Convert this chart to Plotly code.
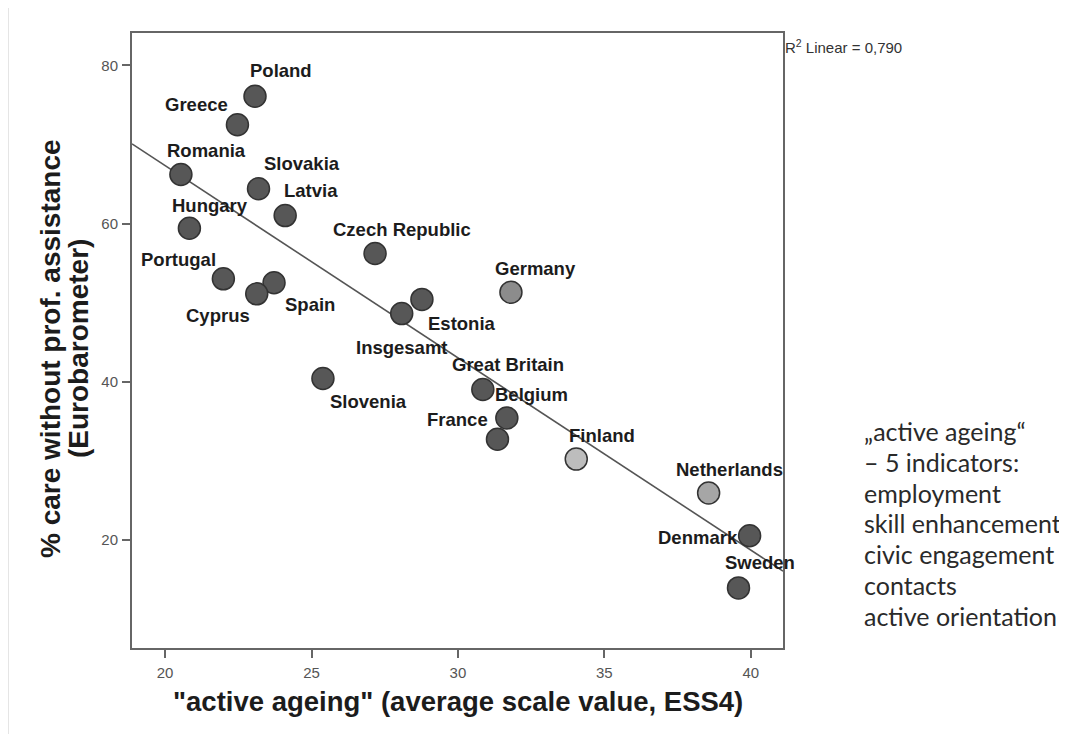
import numpy as np
import plotly.graph_objects as go

# ---------------- data ----------------
countries = ["Poland", "Greece", "Romania", "Slovakia", "Latvia", "Hungary",
             "Czech Republic", "Portugal", "Spain", "Cyprus", "Estonia",
             "Insgesamt", "Germany", "Slovenia", "Great Britain", "Belgium",
             "France", "Finland", "Netherlands", "Denmark", "Sweden"]
active_ageing = [23.07, 22.47, 20.54, 23.19, 24.10, 20.83,
                 27.17, 21.99, 23.72, 23.13, 28.77,
                 28.08, 31.81, 25.39, 30.85, 31.67,
                 31.35, 34.04, 38.56, 39.96, 39.58]
care_no_assist = [76.1, 72.5, 66.2, 64.4, 61.0, 59.4,
                  56.2, 53.0, 52.5, 51.1, 50.4,
                  48.6, 51.3, 40.4, 39.0, 35.4,
                  32.7, 30.2, 25.9, 20.5, 13.9]
# group: 0 = dark, 1 = Germany, 2 = Finland, 3 = Netherlands
group = [0, 0, 0, 0, 0, 0, 0, 0, 0, 0, 0, 0, 1, 0, 0, 0, 0, 2, 3, 0, 0]

x_ticks = [20, 25, 30, 35, 40]
y_ticks = [20, 40, 60, 80]
x_title = '"active ageing" (average scale value, ESS4)'
y_title_lines = ["% care without prof. assistance", "(Eurobarometer)"]
r2_text = "R<sup>2</sup> Linear = 0,790"
side_lines = ["„active ageing“", "– 5 indicators:", "employment",
              "skill enhancement", "civic engagement", "contacts",
              "active orientation"]

# ---------------- layout / style ----------------
PAGE_OFF = 8                      # browser body margin
W, H = 1067 - PAGE_OFF, 742 - 2 * PAGE_OFF
PL, PR, PT, PB = 132, 783, 33, 648  # plot area in page pixels
ML, MT = PL - PAGE_OFF, PT - PAGE_OFF
MR, MB = W - (PR - PAGE_OFF), H - (PB - PAGE_OFF)
PW, PH = PR - PL, PB - PT


def px(xp):
    return (xp - PL) / PW


def py(yp):
    return (PB - yp) / PH


X_RANGE = [18.87, 41.1]
Y_RANGE = [6.3, 84.1]
BOLD = "Liberation Sans, Arial"
fill_cols = {0: "#575757", 1: "#8c8c8c", 2: "#bdbdbd", 3: "#a6a6a6"}
label_off = {
    "Poland": (26, -26), "Greece": (-41, -20), "Romania": (26, -24),
    "Slovakia": (43, -25), "Latvia": (26, -25), "Hungary": (21, -23),
    "Czech Republic": (27, -24), "Portugal": (-45, -19), "Spain": (36, 22),
    "Cyprus": (-39, 22), "Estonia": (40, 24), "Insgesamt": (0, 34),
    "Germany": (25, -24), "Slovenia": (46, 23), "Great Britain": (25, -25),
    "Belgium": (25, -23), "France": (-40, -20), "Finland": (26, -24),
    "Netherlands": (21, -24), "Denmark": (-52, 2), "Sweden": (22, -25),
}

# regression line (computed from the country data, excluding the total)
xs = np.array([x for c, x in zip(countries, active_ageing) if c != "Insgesamt"])
ys = np.array([y for c, y in zip(countries, care_no_assist) if c != "Insgesamt"])
slope, intercept = np.polyfit(xs, ys, 1)
line_x = np.array(X_RANGE)
line_y = intercept + slope * line_x

fig = go.Figure()
fig.add_trace(go.Scatter(
    x=line_x, y=line_y, mode="lines",
    line=dict(color="#555555", width=1.6), hoverinfo="skip", showlegend=False,
))
fig.add_trace(go.Scatter(
    x=active_ageing, y=care_no_assist, mode="markers",
    marker=dict(size=22, color=[fill_cols[g] for g in group],
                line=dict(color="#333333", width=1.5)),
    text=countries, hoverinfo="text", showlegend=False,
))

annotations = []
for c, x, y in zip(countries, active_ageing, care_no_assist):
    dx, dy = label_off[c]
    annotations.append(dict(
        x=x, y=y, xref="x", yref="y", text="<b>" + c + "</b>", showarrow=False,
        xshift=dx, yshift=-dy, xanchor="center", yanchor="middle",
        font=dict(family=BOLD, size=18.5, color="#1c1c1c"),
    ))

annotations.append(dict(
    x=1.0, y=py(47), xref="paper", yref="paper", text=r2_text, showarrow=False,
    xanchor="left", yanchor="middle",
    font=dict(family=BOLD, size=15, color="#333333"),
))

# x axis title
annotations.append(dict(
    x=0.5, y=py(701), xref="paper", yref="paper", text="<b>" + x_title + "</b>",
    showarrow=False, xanchor="center", yanchor="middle",
    font=dict(family=BOLD, size=27.5, color="#1c1c1c"),
))
# y axis title (two rotated lines)
for xp, line in zip([50, 78], y_title_lines):
    annotations.append(dict(
        x=px(xp), y=py(349), xref="paper", yref="paper", text="<b>" + line + "</b>",
        showarrow=False, xanchor="center", yanchor="middle", textangle=-90,
        font=dict(family=BOLD, size=28, color="#1c1c1c"),
    ))

# side text
for i, line in enumerate(side_lines):
    annotations.append(dict(
        x=px(862), y=py(431 + 30.8 * i), xref="paper", yref="paper", text=line,
        showarrow=False, xanchor="left", yanchor="middle",
        font=dict(family="Lato, Noto Sans", size=25, color="#2a2a2a"),
    ))

axis_common = dict(
    showgrid=False, zeroline=False,
    showline=True, linecolor="#666666", linewidth=2, mirror=True,
    ticks="outside", ticklen=8, tickwidth=2, tickcolor="#666666",
    tickfont=dict(family=BOLD, size=15, color="#555555"),
)

fig.update_layout(
    width=W, height=H,
    margin=dict(l=ML, r=MR, t=MT, b=MB, autoexpand=False),
    paper_bgcolor="white", plot_bgcolor="white",
    annotations=annotations,
    xaxis=dict(range=X_RANGE, tickvals=x_ticks, ticklabelstandoff=2, **axis_common),
    yaxis=dict(range=Y_RANGE, tickvals=y_ticks, ticklabelstandoff=1, **axis_common),
    font=dict(family=BOLD),
)

# faint slide frame (top and left edges)
fig.add_shape(type="line", xref="paper", yref="paper",
              x0=px(PAGE_OFF), x1=px(1067), y0=py(PAGE_OFF - 1), y1=py(PAGE_OFF - 1),
              line=dict(color="#dcdcdc", width=1.5), layer="below")
fig.add_shape(type="line", xref="paper", yref="paper",
              x0=px(PAGE_OFF), x1=px(PAGE_OFF), y0=py(PAGE_OFF), y1=py(742),
              line=dict(color="#dcdcdc", width=1.5), layer="below")

fig.write_html("out.html")
